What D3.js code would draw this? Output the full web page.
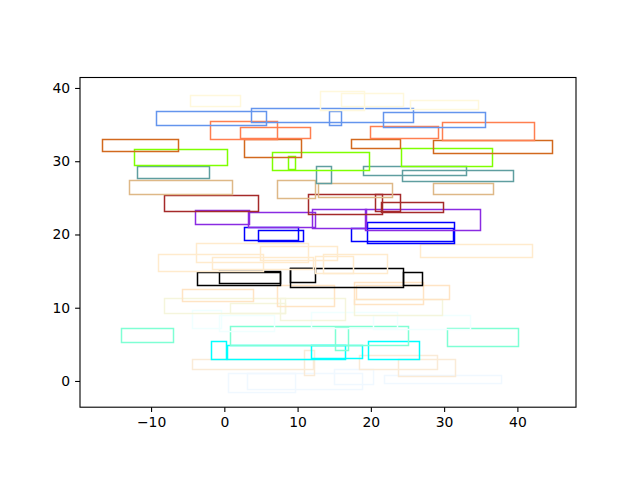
<!DOCTYPE html>
<html>
<head>
<meta charset="utf-8">
<script src="https://cdn.jsdelivr.net/npm/d3@7"></script>
<style>
  html, body { margin: 0; padding: 0; background: #fff; }
  svg { display: block; }
  text { font-family: "DejaVu Sans", sans-serif; }
</style>
</head>
<body>
<svg id="chart" width="640" height="480"></svg>
<script>
// ---- data: each rect is [x0, x1, y0, y1] in data units ----
const colorNames = ["aliceblue","antiquewhite","aqua","aquamarine","azure","beige","bisque","black",
  "blanchedalmond","blue","blueviolet","brown","burlywood","cadetblue","chartreuse","chocolate",
  "coral","cornflowerblue","cornsilk"];

const aliceblue = [[0.6, 9.7, -1.6, 1.0], [3.1, 18.8, -1.2, 1.0], [15.1, 20.3, -0.5, 1.5], [21.9, 37.8, -0.3, 0.8]];
const antiquewhite = [[-4.4, 12.2, 1.5, 3.0], [11.0, 12.3, 0.7, 4.1], [18.5, 29.1, 1.5, 3.5], [23.8, 31.6, 0.6, 2.9]];
const aqua = [[-1.7, 0.3, 2.9, 5.4], [0.5, 16.6, 3.0, 4.8], [11.9, 18.8, 3.1, 4.9], [19.7, 26.7, 3.0, 5.4]];
const aquamarine = [[-14.1, -7.0, 5.2, 7.1], [0.9, 25.2, 4.9, 7.4], [15.2, 16.9, 4.2, 7.3], [30.4, 40.1, 4.7, 7.1]];
const azure = [[-4.3, -0.4, 7.2, 9.6], [-0.6, 6.9, 6.7, 9.0], [11.9, 23.6, 7.2, 9.4], [20.4, 33.6, 7.0, 9.0]];
const beige = [[-8.1, 8.3, 9.2, 11.2], [0.9, 8.3, 9.2, 10.6], [7.7, 16.6, 8.3, 11.2], [17.7, 29.8, 8.9, 11.1]];
const bisque = [[-5.7, 4.0, 10.9, 12.5], [7.2, 15.1, 10.1, 13.1], [18.1, 30.8, 11.1, 13.0], [17.7, 27.2, 10.4, 13.5]];
const black = [[-3.7, 7.7, 13.1, 14.8], [-0.6, 7.7, 13.3, 15.0], [9.0, 12.4, 13.5, 15.3], [9.0, 24.5, 12.8, 15.4], [24.5, 27.0, 13.1, 14.8]];
const blanchedalmond = [[-3.8, 11.5, 16.2, 18.8], [-9.0, 5.4, 15.0, 17.3], [-1.6, 12.2, 15.2, 16.9], [5.0, 15.4, 16.5, 18.3],
  [12.4, 17.6, 14.7, 17.0], [13.6, 22.3, 14.7, 17.2], [26.8, 42.0, 16.9, 18.6]];
const blue = [[2.8, 10.1, 19.2, 20.9], [4.7, 10.8, 19.0, 20.6], [17.3, 31.3, 19.1, 20.8], [19.6, 31.4, 18.7, 21.6]];
const blueviolet = [[-3.9, 3.4, 21.3, 23.3], [3.3, 12.5, 20.9, 23.0], [12.1, 19.4, 20.8, 23.4], [19.3, 34.9, 20.6, 23.4]];
const brown = [[-8.1, 4.7, 23.1, 25.3], [11.5, 21.6, 22.7, 25.4], [20.7, 24.0, 23.1, 25.4], [21.5, 29.9, 23.0, 24.4]];
const burlywood = [[-12.9, 1.1, 25.4, 27.4], [7.2, 12.4, 24.9, 27.4], [12.8, 23.0, 25.0, 26.9], [28.6, 36.8, 25.4, 27.0]];
const cadetblue = [[-11.8, -2.0, 27.6, 29.3], [12.6, 14.6, 26.9, 29.3], [19.0, 33.1, 28.0, 29.3], [24.3, 39.5, 27.2, 28.7]];
const chartreuse = [[-12.2, 0.5, 29.4, 31.6], [6.6, 19.8, 28.8, 31.2], [8.8, 9.7, 28.9, 30.6], [24.2, 36.6, 29.3, 31.7]];
const chocolate = [[-16.6, -6.2, 31.3, 32.9], [2.8, 10.6, 30.5, 32.9], [17.4, 24.0, 31.8, 32.9], [28.6, 44.8, 31.0, 32.8]];
const coral = [[-1.9, 7.3, 32.9, 35.4], [2.2, 11.8, 33.1, 34.6], [19.9, 29.2, 33.1, 34.7], [29.8, 42.3, 32.8, 35.3]];
const cornflowerblue = [[-9.2, 5.7, 34.9, 36.8], [3.7, 25.8, 35.3, 37.2], [14.3, 16.0, 34.9, 36.8], [21.7, 35.7, 34.6, 36.7]];
const cornsilk = [[-4.6, 2.2, 37.5, 39.0], [13.1, 19.2, 36.9, 39.5], [16.0, 24.5, 37.5, 39.2], [25.4, 34.7, 37.0, 38.3]];

const seriesRects = [aliceblue, antiquewhite, aqua, aquamarine, azure, beige, bisque, black, blanchedalmond,
  blue, blueviolet, brown, burlywood, cadetblue, chartreuse, chocolate, coral, cornflowerblue, cornsilk];

const xTicks = [-10, 0, 10, 20, 30, 40];
const yTicks = [0, 10, 20, 30, 40];
const xDomain = [-19.7, 48.0];
const yDomain = [-3.58, 41.43];

// ---- layout ----
const L = 80, R = 576, T = 77.5, B = 407.2;
const svg = d3.select("#chart");
const x = d3.scaleLinear().domain(xDomain).range([L, R]);
const y = d3.scaleLinear().domain(yDomain).range([B, T]);
const snap = v => Math.round(v - 0.5) + 0.5;

const rows = [];
seriesRects.forEach((arr, i) => arr.forEach(r => rows.push({c: colorNames[i], r})));

svg.append("clipPath").attr("id", "clip")
  .append("rect").attr("x", L).attr("y", T).attr("width", R - L).attr("height", B - T);

svg.append("g").attr("clip-path", "url(#clip)")
  .selectAll("rect").data(rows).join("rect")
  .attr("x", d => snap(x(d.r[0])))
  .attr("y", d => snap(y(d.r[3])))
  .attr("width", d => snap(x(d.r[1])) - snap(x(d.r[0])))
  .attr("height", d => snap(y(d.r[2])) - snap(y(d.r[3])))
  .attr("fill", "none")
  .attr("stroke", d => d.c)
  .attr("stroke-width", 1.5);

const fmt = v => (v < 0 ? "\u2212" + Math.abs(v) : String(v));

const xAxis = d3.axisBottom(x).tickValues(xTicks).tickFormat(fmt).tickSizeOuter(0).tickSize(4.9).tickPadding(4.9);
const gx = svg.append("g").attr("transform", `translate(0,${B})`).call(xAxis);
const yAxis = d3.axisLeft(y).tickValues(yTicks).tickFormat(fmt).tickSizeOuter(0).tickSize(4.9).tickPadding(4.9);
const gy = svg.append("g").attr("transform", `translate(${L},0)`).call(yAxis);

[gx, gy].forEach(g => {
  g.select(".domain").remove();
  g.selectAll("line").attr("stroke", "#000").attr("stroke-width", 1.1);
  g.selectAll("text").attr("font-size", "13.9px").attr("fill", "#000").attr("font-family", "DejaVu Sans, sans-serif");
});

svg.append("rect").attr("x", L).attr("y", T).attr("width", R - L).attr("height", B - T)
  .attr("fill", "none").attr("stroke", "#000").attr("stroke-width", 1.1);
</script>
</body>
</html>
